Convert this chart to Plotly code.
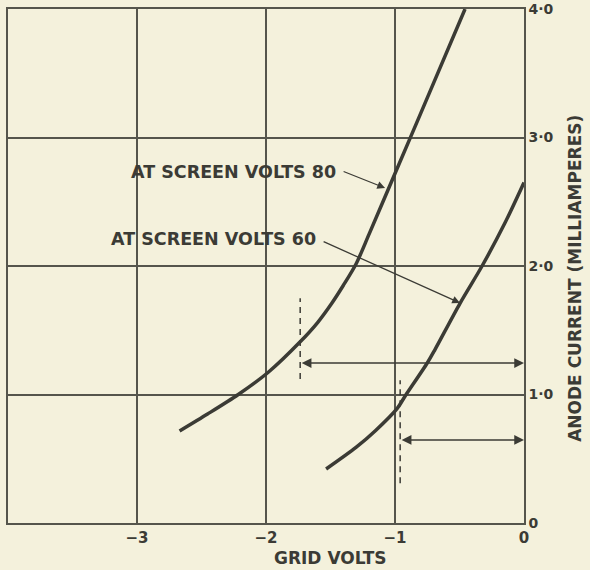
import plotly.graph_objects as go

# Data
grid_volts_80 = [-2.67, -2.45, -2.215, -1.98, -1.735, -1.6, -1.49, -1.4, -1.3, -1.2, -1.0, -0.8, -0.457]
current_80 = [0.716, 0.85, 1.0, 1.175, 1.41, 1.56, 1.71, 1.85, 2.02, 2.25, 2.72, 3.19, 4.0]

grid_volts_60 = [-1.534, -1.3, -1.15, -0.984, -0.92, -0.75, -0.69, -0.496, -0.325, -0.15, 0.0]
current_60 = [0.42, 0.59, 0.72, 0.89, 0.99, 1.245, 1.35, 1.71, 2.0, 2.33, 2.65]

x_ticks = [-3, -2, -1, 0]
x_tick_labels = ["\u22123", "\u22122", "\u22121", "0"]
y_ticks = [0, 1, 2, 3, 4]
y_tick_labels = ["0", "1\u00b70", "2\u00b70", "3\u00b70", "4\u00b70"]

label_80 = "AT SCREEN VOLTS 80"
label_60 = "AT SCREEN VOLTS 60"

# dashed marker lines (x, y0, y1)
dash_a = (-1.735, 1.12, 1.75)
dash_b = (-0.96, 0.31, 1.11)
# double-headed arrows (y, x0, x1)
span_a = (1.245, -1.735, 0.0)
span_b = (0.646, -0.96, 0.0)

INK = "#3b3b35"
GRID = "#55554c"
BG = "#f4f1dc"
FONT = "DejaVu Sans"

fig = go.Figure()
fig.add_trace(go.Scatter(x=grid_volts_80, y=current_80, mode="lines",
                         line=dict(color=INK, width=3.5, shape="spline", smoothing=0.8),
                         showlegend=False, hoverinfo="skip"))
fig.add_trace(go.Scatter(x=grid_volts_60, y=current_60, mode="lines",
                         line=dict(color=INK, width=3.5, shape="spline", smoothing=0.8),
                         showlegend=False, hoverinfo="skip"))

for d in (dash_a, dash_b):
    fig.add_trace(go.Scatter(x=[d[0], d[0]], y=[d[1], d[2]], mode="lines",
                             line=dict(color=INK, width=1.5, dash="6px,5px"),
                             showlegend=False, hoverinfo="skip"))

annotations = []
for s in (span_a, span_b):
    annotations.append(dict(x=s[2], y=s[0], ax=s[1], ay=s[0], xref="x", yref="y",
                            axref="x", ayref="y", text="", showarrow=True,
                            arrowhead=2, startarrowhead=2, arrowside="end+start",
                            arrowsize=1.3, startarrowsize=1.3, arrowwidth=1.5,
                            arrowcolor=INK))

# labels
annotations.append(dict(x=-1.44, y=2.73, xref="x", yref="y", text=label_80,
                        showarrow=False, xanchor="right", yanchor="middle",
                        font=dict(family=FONT, size=17.5, color=INK, weight="bold")))
annotations.append(dict(x=-1.60, y=2.21, xref="x", yref="y", text=label_60,
                        showarrow=False, xanchor="right", yanchor="middle",
                        font=dict(family=FONT, size=17.5, color=INK, weight="bold")))
# label pointers
annotations.append(dict(x=-1.077, y=2.607, ax=-1.41, ay=2.74, xref="x", yref="y",
                        axref="x", ayref="y", text="", showarrow=True, arrowhead=2,
                        arrowsize=1.2, arrowwidth=1.3, arrowcolor=INK))
annotations.append(dict(x=-0.496, y=1.712, ax=-1.565, ay=2.195, xref="x", yref="y",
                        axref="x", ayref="y", text="", showarrow=True, arrowhead=2,
                        arrowsize=1.2, arrowwidth=1.3, arrowcolor=INK))

# axis titles
annotations.append(dict(x=1, y=1.9, xref="paper", yref="y", xanchor="left",
                        yanchor="middle", xshift=39, textangle=-90,
                        text="ANODE CURRENT (MILLIAMPERES)", showarrow=False,
                        font=dict(family=FONT, size=17, color=INK, weight="bold")))
annotations.append(dict(x=-1.5, y=0, xref="x", yref="paper", xanchor="center",
                        yanchor="top", yshift=-23, text="GRID VOLTS", showarrow=False,
                        font=dict(family=FONT, size=17, color=INK, weight="bold")))

fig.update_layout(
    width=590, height=570,
    margin=dict(l=8, r=66, t=9, b=47, autoexpand=False),
    paper_bgcolor=BG, plot_bgcolor=BG,
    annotations=annotations,
    showlegend=False,
)
fig.update_xaxes(range=[-4, 0], tickvals=x_ticks, ticktext=x_tick_labels,
                 showgrid=True, gridcolor=GRID, gridwidth=1.5, zeroline=False,
                 showline=True, linecolor=GRID, linewidth=1.5, mirror=True,
                 ticks="", automargin=False,
                 tickfont=dict(family=FONT, size=15, color=INK, weight="bold"))
fig.update_yaxes(range=[0, 4], tickvals=y_ticks, ticktext=y_tick_labels, side="right",
                 showgrid=True, gridcolor=GRID, gridwidth=1.5, zeroline=False,
                 showline=True, linecolor=GRID, linewidth=1.5, mirror=True,
                 ticks="", ticklabelstandoff=0, automargin=False,
                 tickfont=dict(family=FONT, size=14, color=INK, weight="bold"))

fig.write_html("out.html", config={"displayModeBar": False},
               post_script="document.body.style.margin='0';document.body.style.background='%s';" % BG)
